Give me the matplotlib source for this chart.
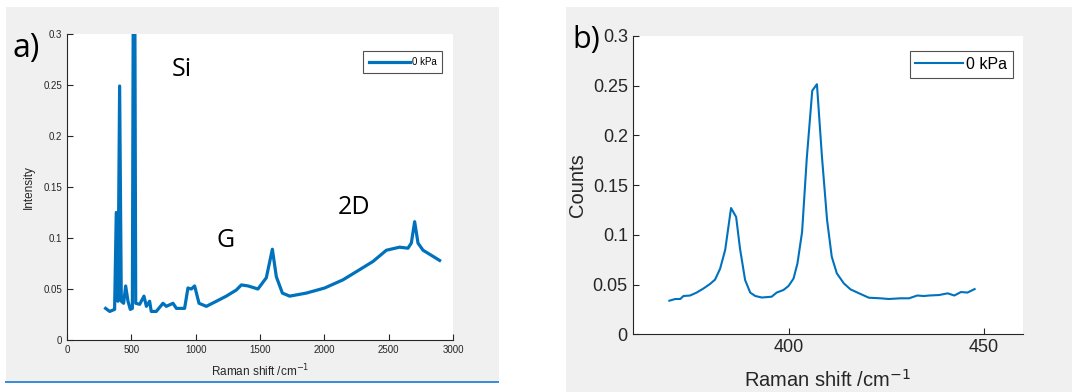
import numpy as np
import matplotlib.pyplot as plt
from matplotlib.patches import Rectangle

# panel a) full Raman spectrum
shift_full = [300, 332, 370, 383, 396, 409, 422, 440, 456, 474, 492, 508, 521, 534,
              565, 598, 617, 642, 655, 694, 746, 772, 824, 850, 914, 940, 966, 992,
              1026, 1083, 1161, 1238, 1316, 1355, 1407, 1484, 1549, 1596, 1627, 1674,
              1731, 1860, 2003, 2145, 2275, 2378, 2482, 2585, 2650, 2676, 2702, 2728,
              2767, 2832, 2896]
inten_full = [0.031, 0.028, 0.030, 0.125, 0.038, 0.249, 0.038, 0.036, 0.053, 0.038,
              0.030, 0.031, 0.60, 0.036, 0.035, 0.043, 0.033, 0.038, 0.028, 0.028,
              0.036, 0.033, 0.036, 0.031, 0.031, 0.051, 0.050, 0.053, 0.036, 0.033,
              0.038, 0.043, 0.049, 0.054, 0.053, 0.050, 0.061, 0.089, 0.062, 0.046,
              0.043, 0.046, 0.051, 0.059, 0.069, 0.077, 0.088, 0.091, 0.090, 0.095,
              0.116, 0.095, 0.088, 0.083, 0.078]

# panel b) zoom on the low-shift peaks
shift_zoom = [369.4, 370.9, 372.2, 373.0, 374.7, 376.4, 378.1, 379.8, 381.1, 382.4,
              383.7, 385.2, 386.5, 387.5, 388.8, 390.1, 391.4, 393.1, 395.6, 396.9,
              398.6, 399.9, 401.2, 402.2, 403.4, 404.6, 406.0, 407.2, 408.5, 409.8,
              411.0, 412.3, 414.1, 415.8, 418.4, 420.5, 423.5, 425.6, 428.6, 430.8,
              432.9, 434.6, 435.9, 438.5, 440.7, 442.4, 444.1, 445.8, 447.6]
counts_zoom = [0.0338, 0.0355, 0.0355, 0.0385, 0.039, 0.042, 0.046, 0.0506, 0.055, 0.066,
               0.085, 0.127, 0.118, 0.086, 0.0546, 0.042, 0.0385, 0.037, 0.0378, 0.042,
               0.0445, 0.0485, 0.056, 0.071, 0.103, 0.177, 0.245, 0.2515, 0.178, 0.115,
               0.078, 0.0613, 0.0512, 0.0452, 0.0405, 0.0368, 0.0362, 0.0355, 0.0362, 0.0362,
               0.039, 0.0385, 0.039, 0.0395, 0.0412, 0.039, 0.0425, 0.042, 0.0455]

W, H = 1072, 392
blue = '#0072BD'
ink = '#262626'
plt.rcParams['font.family'] = ['Liberation Sans', 'DejaVu Sans']

fig = plt.figure(figsize=(W / 100, H / 100), dpi=100)
fig.patch.set_facecolor('white')

# grey backgrounds behind each panel
def px_rect(x0, y0, x1, y1, **kw):
    return Rectangle((x0 / W, 1 - y1 / H), (x1 - x0) / W, (y1 - y0) / H,
                     transform=fig.transFigure, zorder=-5, **kw)

fig.patches.append(px_rect(6, 7, 499, 382, facecolor='#f0f0f0', edgecolor='none'))
fig.patches.append(px_rect(5, 381, 499, 383, facecolor='#3b8fd6', edgecolor='none'))
fig.patches.append(px_rect(566, 7, 1072, 392, facecolor='#f0f0f0', edgecolor='none'))

def px_axes(x0, y0, x1, y1):
    return fig.add_axes([x0 / W, 1 - y1 / H, (x1 - x0) / W, (y1 - y0) / H])

def style(ax, size):
    for s in ['top', 'right']:
        ax.spines[s].set_visible(False)
    for s in ['left', 'bottom']:
        ax.spines[s].set_color(ink)
        ax.spines[s].set_linewidth(0.8)
    ax.tick_params(direction='in', colors=ink, labelsize=size, length=4, width=0.8)

# ---- a)
ax1 = px_axes(67, 34, 453, 340)
ax1.plot(shift_full, inten_full, color=blue, lw=2.3, label='0 kPa')
ax1.set_xlim(0, 3000)
ax1.set_ylim(0, 0.3)
ax1.set_xticks([0, 500, 1000, 1500, 2000, 2500, 3000])
ax1.set_yticks([0, 0.05, 0.1, 0.15, 0.2, 0.25, 0.3])
ax1.set_yticklabels(['0', '0.05', '0.1', '0.15', '0.2', '0.25', '0.3'])
style(ax1, 7)
ax1.set_xlabel('Raman shift /cm$^{-1}$', fontsize=8.5, color=ink, labelpad=6)
ax1.set_ylabel('Intensity', fontsize=8.5, color=ink, labelpad=6)
leg = ax1.legend(loc='upper right', fontsize=7, frameon=True, fancybox=False,
                 handlelength=4.2, handletextpad=0.2, borderpad=0.6,
                 bbox_to_anchor=(0.985, 0.96))
leg.get_frame().set_edgecolor(ink)
leg.get_frame().set_linewidth(0.8)
for name, x, y in [('Si', 889, 0.265), ('G', 1230, 0.098), ('2D', 2228, 0.130)]:
    ax1.text(x, y, name, fontsize=18, family='Open Sans', ha='center', va='center')
fig.text(26 / W, 1 - 48 / H, 'a)', fontsize=23, family='Open Sans', ha='center', va='center')

# ---- b)
ax2 = px_axes(632.7, 36, 1023, 334.3)
ax2.plot(shift_zoom, counts_zoom, color=blue, lw=1.5, label='0 kPa')
ax2.set_xlim(360, 460)
ax2.set_ylim(0, 0.3)
ax2.set_xticks([400, 450])
ax2.set_yticks([0, 0.05, 0.1, 0.15, 0.2, 0.25, 0.3])
ax2.set_yticklabels(['0', '0.05', '0.1', '0.15', '0.2', '0.25', '0.3'])
style(ax2, 13)
ax2.set_xlabel('Raman shift /cm$^{-1}$', fontsize=14.5, color=ink, labelpad=9)
ax2.set_ylabel('Counts', fontsize=14.5, color=ink, labelpad=4)
leg2 = ax2.legend(loc='upper right', fontsize=11.5, frameon=True, fancybox=False,
                  handlelength=3, handletextpad=0.2, borderpad=0.35,
                  bbox_to_anchor=(0.995, 0.975))
leg2.get_frame().set_edgecolor(ink)
leg2.get_frame().set_linewidth(0.8)
fig.text(586 / W, 1 - 40 / H, 'b)', fontsize=22, family='Open Sans', ha='center', va='center')

fig.savefig('out.png', dpi=100, facecolor=fig.get_facecolor())
